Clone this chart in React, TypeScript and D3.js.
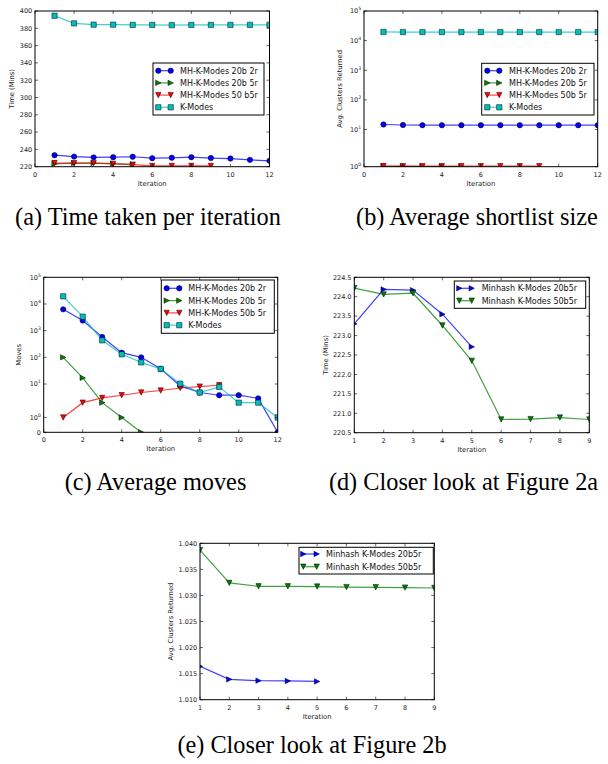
import React from "react";
import * as d3 from "d3";

// ---------- categories ----------
const iterations12 = [1, 2, 3, 4, 5, 6, 7, 8, 9, 10, 11, 12];
const iterations9 = [1, 2, 3, 4, 5, 6, 7, 8, 9];
const iterations5 = [1, 2, 3, 4, 5];

// ---------- (a) time per iteration (mins) ----------
const timeMH20b2r = [233.3, 231.7, 230.8, 231.0, 231.5, 229.8, 230.3, 231.0, 230.0, 229.4, 227.9, 226.8];
const timeMH20b5r = [223.3, 224.19, 224.17, 223.55, 222.71];
const timeMH50b5r = [224.22, 224.06, 224.09, 223.26, 222.35, 220.84, 220.85, 220.89, 220.84];
const timeKModes = [394.5, 385.7, 384.2, 384.2, 383.9, 383.9, 383.6, 383.9, 383.9, 383.9, 384.0, 384.0];

// ---------- (b) average shortlist size ----------
const shortlistMH20b2r = [14.8, 14.2, 14.0, 14.0, 14.0, 14.0, 14.0, 14.0, 14.0, 14.0, 14.0, 14.0];
const shortlistMH20b5r = [1.0164, 1.0139, 1.01365, 1.0136, 1.0135];
const shortlistMH50b5r = [1.0387, 1.0324, 1.03175, 1.03175, 1.0317, 1.0316, 1.03156, 1.0315, 1.03143];
const shortlistKModes = [19600, 19500, 19500, 19500, 19500, 19500, 19500, 19500, 19500, 19500, 19500, 19500];

// ---------- (c) average moves ----------
const movesMH20b2r = [6300, 2400, 580, 150, 100, 37, 8.5, 4.8, 3.8, 3.8, 2.9, 0];
const movesMH20b5r = [100, 17, 2, 1, 0];
const movesMH50b5r = [1, 2, 3, 3.8, 4.8, 5.7, 7.1, 8, 9];
const movesKModes = [19400, 3350, 435, 130, 65, 36.6, 10.3, 4.8, 7.8, 2, 2, 1];

// ---------- labels ----------
const legendLabelsA = ["MH-K-Modes 20b 2r", "MH-K-Modes 20b 5r", "MH-K-Modes 50 b5r", "K-Modes"];
const legendLabelsBC = ["MH-K-Modes 20b 2r", "MH-K-Modes 20b 5r", "MH-K-Modes 50b 5r", "K-Modes"];
const legendLabelsDE = ["Minhash K-Modes 20b5r", "Minhash K-Modes 50b5r"];
const captions = [
  "(a) Time taken per iteration",
  "(b) Average shortlist size",
  "(c) Average moves",
  "(d) Closer look at Figure 2a",
  "(e) Closer look at Figure 2b",
];

// ---------- ticks ----------
const xTicks12 = [0, 2, 4, 6, 8, 10, 12];
const xTicks9 = [1, 2, 3, 4, 5, 6, 7, 8, 9];
const timeTicksA = [220, 240, 260, 280, 300, 320, 340, 360, 380, 400];
const timeTicksD = [220.5, 221.0, 221.5, 222.0, 222.5, 223.0, 223.5, 224.0, 224.5];
const shortTicksE = [1.01, 1.015, 1.02, 1.025, 1.03, 1.035, 1.04];
const logTicksB = [1, 10, 100, 1000, 10000, 100000];
const logTicksC = [0, 1, 10, 100, 1000, 10000, 100000];

const BLUE = "#0000ff";
const GREEN = "#008000";
const RED = "#ff0000";
const CYAN = "#00bfbf";

// matplotlib-like symlog (linthresh 2, linscale 1)
const LTH = 2;
const LSA = 1 / (1 - 1 / 10);
const symT = (v: number) =>
  Math.abs(v) <= LTH ? (v / LTH) * LSA : Math.sign(v) * (LSA + Math.log10(Math.abs(v) / LTH));

type Mk = "o" | ">" | "v" | "s";
interface Series {
  xs: number[];
  ys: number[];
  color: string;
  marker: Mk;
  label: string;
}
interface LegendCfg {
  x0: number;
  x1: number;
  y0: number;
  y1: number;
  firstY: number;
  step: number;
  lx1: number;
  lx2: number;
  tx: number;
}
interface PanelCfg {
  id: string;
  left: number;
  right: number;
  top: number;
  bottom: number;
  xDomain: [number, number];
  xTicks: number[];
  yKind: "linear" | "symlog";
  yDomain: [number, number];
  yTicks: number[];
  yDecimals: number;
  series: Series[];
  legend: LegendCfg;
  yLabel: string;
  yLabelX: number;
}

const markerPath = (m: Mk): string => {
  const s = 5.4;
  const h = s / 2;
  if (m === "o") return d3.symbol().type(d3.symbolCircle).size(Math.PI * 2.7 * 2.7)() || "";
  if (m === "s") return `M${-2.65},${-2.65}H2.65V2.65H-2.65Z`;
  if (m === ">") return `M${h},0L${-h},${h}L${-h},${-h}Z`;
  return `M0,${h}L${-h},${-h}L${h},${-h}Z`;
};

const TICK_FS = 6.5;
const LABEL_FS = 6.8;
const LEG_FS = 8;
const SANS = "'DejaVu Sans', sans-serif";

function Marker({ x, y, m, color }: { x: number; y: number; m: Mk; color: string }) {
  return (
    <path d={markerPath(m)} transform={`translate(${x},${y})`} fill={color} stroke="#000" strokeWidth={0.5} />
  );
}

function Panel({ cfg }: { cfg: PanelCfg }) {
  const { left, right, top, bottom } = cfg;
  const xs = d3.scaleLinear().domain(cfg.xDomain).range([left, right]);
  const tf = cfg.yKind === "symlog" ? symT : (v: number) => v;
  const ysl = d3.scaleLinear().domain([tf(cfg.yDomain[0]), tf(cfg.yDomain[1])]).range([bottom, top]);
  const y = (v: number) => ysl(tf(v));
  const line = d3
    .line<[number, number]>()
    .x((d) => xs(d[0]))
    .y((d) => y(d[1]));
  const clipId = `clip-${cfg.id}`;
  const T = 3;
  const L = cfg.legend;

  const yTickLabel = (v: number) => {
    if (cfg.yKind === "symlog") {
      if (v === 0) return <>0</>;
      const e = Math.round(Math.log10(v));
      return (
        <>
          10
          <tspan dy={-3} fontSize={4.6}>
            {e}
          </tspan>
        </>
      );
    }
    return <>{v.toFixed(cfg.yDecimals)}</>;
  };

  return (
    <g>
      <defs>
        <clipPath id={clipId}>
          <rect x={left} y={top} width={right - left} height={bottom - top} />
        </clipPath>
      </defs>
      <g clipPath={`url(#${clipId})`}>
        {cfg.series.map((s, i) => {
          const pts: [number, number][] = s.xs.map((xv, j) => [xv, s.ys[j]]);
          return (
            <g key={i}>
              <path d={line(pts) || ""} fill="none" stroke={s.color} strokeWidth={1.2} strokeOpacity={0.75} />
              {pts.map((p, j) => (
                <Marker key={j} x={xs(p[0])} y={y(p[1])} m={s.marker} color={s.color} />
              ))}
            </g>
          );
        })}
      </g>
      {/* frame */}
      <rect x={left} y={top} width={right - left} height={bottom - top} fill="none" stroke="#000" strokeWidth={1} />
      {/* x ticks */}
      {cfg.xTicks.map((t) => (
        <g key={`x${t}`}>
          <line x1={xs(t)} x2={xs(t)} y1={bottom} y2={bottom - T} stroke="#000" strokeWidth={0.6} />
          <line x1={xs(t)} x2={xs(t)} y1={top} y2={top + T} stroke="#000" strokeWidth={0.6} />
          <text
            x={xs(t)}
            y={bottom + 9.8}
            fontSize={TICK_FS}
            fontFamily={SANS}
            textAnchor="middle"
            fill="#222"
          >
            {t}
          </text>
        </g>
      ))}
      {/* y ticks */}
      {cfg.yTicks.map((t) => (
        <g key={`y${t}`}>
          <line x1={left} x2={left + T} y1={y(t)} y2={y(t)} stroke="#000" strokeWidth={0.6} />
          <line x1={right} x2={right - T} y1={y(t)} y2={y(t)} stroke="#000" strokeWidth={0.6} />
          <text
            x={left - 2.8}
            y={y(t) + 2.3}
            fontSize={TICK_FS}
            fontFamily={SANS}
            textAnchor="end"
            fill="#222"
          >
            {yTickLabel(t)}
          </text>
        </g>
      ))}
      {/* axis labels */}
      <text
        x={(left + right) / 2}
        y={bottom + 19}
        fontSize={LABEL_FS}
        fontFamily={SANS}
        textAnchor="middle"
        fill="#222"
      >
        Iteration
      </text>
      <text
        transform={`translate(${cfg.yLabelX},${(top + bottom) / 2}) rotate(-90)`}
        fontSize={LABEL_FS}
        fontFamily={SANS}
        textAnchor="middle"
        fill="#222"
      >
        {cfg.yLabel}
      </text>
      {/* legend */}
      <rect x={L.x0} y={L.y0} width={L.x1 - L.x0} height={L.y1 - L.y0} fill="#fff" stroke="#000" strokeWidth={1} />
      {cfg.series.map((s, i) => {
        const ly = L.firstY + i * L.step;
        return (
          <g key={`l${i}`}>
            <line x1={L.lx1} x2={L.lx2} y1={ly} y2={ly} stroke={s.color} strokeWidth={1.2} strokeOpacity={0.75} />
            <Marker x={L.lx1} y={ly} m={s.marker} color={s.color} />
            <Marker x={L.lx2} y={ly} m={s.marker} color={s.color} />
            <text x={L.tx} y={ly + 2.9} fontSize={LEG_FS} fontFamily={SANS} fill="#111">
              {s.label}
            </text>
          </g>
        );
      })}
    </g>
  );
}

const panels: PanelCfg[] = [
  {
    id: "a",
    left: 35,
    right: 269.5,
    top: 11,
    bottom: 166.7,
    xDomain: [0, 12],
    xTicks: xTicks12,
    yKind: "linear",
    yDomain: [220, 400],
    yTicks: timeTicksA,
    yDecimals: 0,
    series: [
      { xs: iterations12, ys: timeMH20b2r, color: BLUE, marker: "o", label: legendLabelsA[0] },
      { xs: iterations5, ys: timeMH20b5r, color: GREEN, marker: ">", label: legendLabelsA[1] },
      { xs: iterations9, ys: timeMH50b5r, color: RED, marker: "v", label: legendLabelsA[2] },
      { xs: iterations12, ys: timeKModes, color: CYAN, marker: "s", label: legendLabelsA[3] },
    ],
    legend: { x0: 153, x1: 264, y0: 63, y1: 115, firstY: 70.7, step: 12.2, lx1: 158.3, lx2: 170.7, tx: 180 },
    yLabel: "Time (Mins)",
    yLabelX: 14,
  },
  {
    id: "b",
    left: 364,
    right: 597.7,
    top: 11,
    bottom: 166.7,
    xDomain: [0, 12],
    xTicks: xTicks12,
    yKind: "symlog",
    yDomain: [1, 100000],
    yTicks: logTicksB,
    yDecimals: 0,
    series: [
      { xs: iterations12, ys: shortlistMH20b2r, color: BLUE, marker: "o", label: legendLabelsBC[0] },
      { xs: iterations5, ys: shortlistMH20b5r, color: GREEN, marker: ">", label: legendLabelsBC[1] },
      { xs: iterations9, ys: shortlistMH50b5r, color: RED, marker: "v", label: legendLabelsBC[2] },
      { xs: iterations12, ys: shortlistKModes, color: CYAN, marker: "s", label: legendLabelsBC[3] },
    ],
    legend: { x0: 481.7, x1: 594, y0: 63.3, y1: 115, firstY: 70.7, step: 12.2, lx1: 487.3, lx2: 499.3, tx: 509 },
    yLabel: "Avg. Clusters Returned",
    yLabelX: 342.3,
  },
  {
    id: "c",
    left: 43.7,
    right: 277.7,
    top: 277.3,
    bottom: 432.3,
    xDomain: [0, 12],
    xTicks: xTicks12,
    yKind: "symlog",
    yDomain: [0, 100000],
    yTicks: logTicksC,
    yDecimals: 0,
    series: [
      { xs: iterations12, ys: movesMH20b2r, color: BLUE, marker: "o", label: legendLabelsBC[0] },
      { xs: iterations5, ys: movesMH20b5r, color: GREEN, marker: ">", label: legendLabelsBC[1] },
      { xs: iterations9, ys: movesMH50b5r, color: RED, marker: "v", label: legendLabelsBC[2] },
      { xs: iterations12, ys: movesKModes, color: CYAN, marker: "s", label: legendLabelsBC[3] },
    ],
    legend: { x0: 161.3, x1: 274.3, y0: 280, y1: 333.3, firstY: 288.3, step: 12.3, lx1: 166.7, lx2: 179.3, tx: 188.3 },
    yLabel: "Moves",
    yLabelX: 21.3,
  },
  {
    id: "d",
    left: 354.3,
    right: 589.3,
    top: 277.3,
    bottom: 432.7,
    xDomain: [1, 9],
    xTicks: xTicks9,
    yKind: "linear",
    yDomain: [220.5, 224.5],
    yTicks: timeTicksD,
    yDecimals: 1,
    series: [
      { xs: iterations5, ys: timeMH20b5r, color: BLUE, marker: ">", label: legendLabelsDE[0] },
      { xs: iterations9, ys: timeMH50b5r, color: GREEN, marker: "v", label: legendLabelsDE[1] },
    ],
    legend: { x0: 454.3, x1: 585.7, y0: 281, y1: 308.3, firstY: 288.3, step: 12.4, lx1: 459.3, lx2: 471.7, tx: 481.7 },
    yLabel: "Time (Mins)",
    yLabelX: 328.3,
  },
  {
    id: "e",
    left: 200,
    right: 434.3,
    top: 543.3,
    bottom: 699.7,
    xDomain: [1, 9],
    xTicks: xTicks9,
    yKind: "linear",
    yDomain: [1.01, 1.04],
    yTicks: shortTicksE,
    yDecimals: 3,
    series: [
      { xs: iterations5, ys: shortlistMH20b5r, color: BLUE, marker: ">", label: legendLabelsDE[0] },
      { xs: iterations9, ys: shortlistMH50b5r, color: GREEN, marker: "v", label: legendLabelsDE[1] },
    ],
    legend: { x0: 299, x1: 433.3, y0: 547.3, y1: 574, firstY: 554, step: 12.7, lx1: 303.3, lx2: 316.7, tx: 326 },
    yLabel: "Avg. Clusters Returned",
    yLabelX: 173,
  },
];

const captionPos: [number, number][] = [
  [148, 225],
  [477, 225],
  [155.5, 490],
  [463.5, 490],
  [312, 753],
];

export default function App() {
  return (
    <svg
      width={608}
      height={764}
      viewBox="0 0 608 764"
      style={{ position: "absolute", left: 0, top: 0, background: "#fff" }}
    >
      <rect x={0} y={0} width={608} height={764} fill="#fff" />
      {panels.map((p) => (
        <Panel key={p.id} cfg={p} />
      ))}
      {captions.map((c, i) => (
        <text
          key={c}
          x={captionPos[i][0]}
          y={captionPos[i][1]}
          fontSize={24.3}
          fontFamily="'Liberation Serif', 'Times New Roman', serif"
          textAnchor="middle"
          fill="#000"
        >
          {c}
        </text>
      ))}
    </svg>
  );
}
